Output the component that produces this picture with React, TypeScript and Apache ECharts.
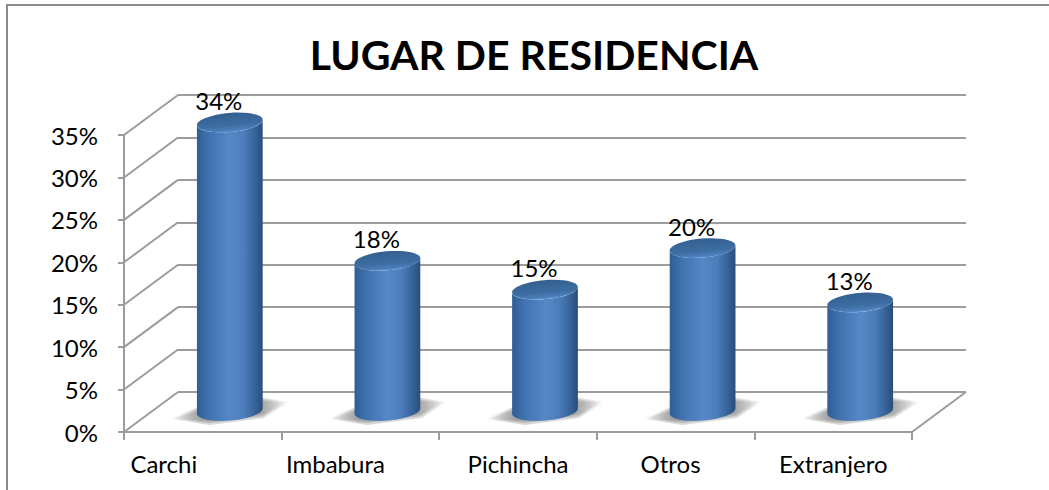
import React, { useEffect, useRef } from "react";
import * as echarts from "echarts";

const categories = ["Carchi", "Imbabura", "Pichincha", "Otros", "Extranjero"];
const values = [34, 17.7, 14.3, 19.2, 12.8];
const dataLabels = ["34%", "18%", "15%", "20%", "13%"];
const yTicks = [0, 5, 10, 15, 20, 25, 30, 35];
const titleText = "LUGAR DE RESIDENCIA";

const FONT = "Lato, 'Open Sans', sans-serif";
const GRID_LEFT = 124, GRID_RIGHT = 912, GRID_TOP = 135, GRID_BOTTOM = 432;
const DX = 54, DY = -40;
const W = 1049, H = 490;
const labelShift = [39, 25, 0, 5, 0];
const LINE = "#9c9c9c";

function renderDepth(params: any, api: any) {
  const v = api.value(0);
  const y = api.coord([0, v])[1];
  const x = params.coordSys.x;
  return {
    type: "line",
    silent: true,
    shape: { x1: x, y1: y, x2: x + DX, y2: y + DY },
    style: { stroke: LINE, lineWidth: 2 },
  };
}

function renderFloorRight(params: any, api: any) {
  const y = api.coord([0, api.value(0)])[1];
  const x = params.coordSys.x + params.coordSys.width;
  return {
    type: "line",
    silent: true,
    shape: { x1: x, y1: y, x2: x + DX, y2: y + DY },
    style: { stroke: LINE, lineWidth: 2 },
  };
}

function shadowLayer(cx: number, byc: number, grow: number, alpha: number) {
  const fill = new echarts.graphic.LinearGradient(0, 0, 1, 0, [
    { offset: 0, color: `rgba(125,125,125,0)` },
    { offset: 0.25, color: `rgba(125,125,125,${alpha})` },
    { offset: 0.75, color: `rgba(125,125,125,${alpha})` },
    { offset: 1, color: `rgba(125,125,125,0)` },
  ]);
  return {
    type: "polygon",
    shape: {
      points: [
        [cx - 58 - grow, byc + 8],
        [cx - 30, byc - 3 - grow],
        [cx + 30, byc - 12 - grow],
        [cx + 58 + grow, byc - 9],
        [cx + 34, byc + 5 + grow],
        [cx - 20, byc + 12 + grow],
      ],
    },
    style: { fill },
  };
}

function renderCyl(params: any, api: any) {
  const idx = api.value(0);
  const val = api.value(1);
  const base = api.coord([idx, 0]);
  const top = api.coord([idx, val]);
  const cx = base[0] + DX / 2;
  const byc = base[1] + DY / 2 - 1;
  const tyc = top[1] + DY / 2 - 1;
  const rx = 33, ry = 9.5, rot = (5 * Math.PI) / 180;
  const ell = (cy: number, t: number) => {
    const ex = rx * Math.cos(t), ey = ry * Math.sin(t);
    return [cx + ex * Math.cos(rot) + ey * Math.sin(rot), cy - ex * Math.sin(rot) + ey * Math.cos(rot)];
  };
  const body: number[][] = [];
  for (let i = 0; i <= 24; i++) body.push(ell(tyc, Math.PI - (i / 24) * Math.PI));
  for (let i = 0; i <= 24; i++) body.push(ell(byc, (i / 24) * Math.PI));
  const bodyFill = new echarts.graphic.LinearGradient(0, 0, 1, 0, [
    { offset: 0, color: "#2f5e96" },
    { offset: 0.18, color: "#3f72ae" },
    { offset: 0.5, color: "#5688c8" },
    { offset: 0.72, color: "#4c7dba" },
    { offset: 0.92, color: "#315d91" },
    { offset: 1, color: "#294d77" },
  ]);
  const topFill = new echarts.graphic.LinearGradient(0, 0, 0, 1, [
    { offset: 0, color: "#34608f" },
    { offset: 0.65, color: "#3d6da3" },
    { offset: 0.88, color: "#4a7db8" },
    { offset: 1, color: "#5a8ecd" },
  ]);
  return {
    type: "group",
    silent: true,
    children: [
      shadowLayer(cx, byc, 2, 0.3),
      shadowLayer(cx, byc, 0, 0.35),
      shadowLayer(cx, byc, -2, 0.4),
      { type: "polygon", shape: { points: body }, style: { fill: bodyFill } },
      {
        type: "ellipse",
        shape: { cx: 0, cy: 0, rx: rx, ry: ry },
        x: cx,
        y: tyc,
        rotation: rot,
        style: { fill: topFill },
      },
    ],
  };
}

export default function App() {
  const ref = useRef<HTMLDivElement>(null);
  useEffect(() => {
    const chart = echarts.init(ref.current!, undefined, { renderer: "svg" });
    const rich: any = {};
    categories.forEach((c, i) => {
      rich["c" + i] = {
        fontFamily: FONT,
        fontSize: 24,
        color: "#000",
        padding: [0, labelShift[i] * 2, 0, 0],
      };
    });
    chart.setOption({
      animation: false,
      backgroundColor: "#fff",
      title: {
        text: titleText,
        left: 529,
        top: 29,
        textAlign: "center",
        textStyle: { fontFamily: FONT, fontWeight: "bold", fontSize: 41, color: "#000" },
      },
      graphic: [
        {
          type: "rect",
          shape: { x: 7, y: 5, width: 1100, height: 600 },
          style: { fill: "none", stroke: "#8c8c8c", lineWidth: 2 },
          silent: true,
        },
      ],
      grid: [
        { left: GRID_LEFT, top: GRID_TOP, width: GRID_RIGHT - GRID_LEFT, height: GRID_BOTTOM - GRID_TOP },
        { left: GRID_LEFT + DX, top: GRID_TOP + DY, width: GRID_RIGHT - GRID_LEFT, height: GRID_BOTTOM - GRID_TOP },
      ],
      xAxis: [
        {
          type: "category",
          gridIndex: 0,
          data: categories,
          boundaryGap: true,
          axisLine: { show: true, lineStyle: { color: LINE, width: 2 } },
          axisTick: { show: true, alignWithLabel: false, interval: 0, length: 8, lineStyle: { color: LINE, width: 2 } },
          axisLabel: {
            margin: 19,
            interval: 0,
            formatter: (v: string) => `{c${categories.indexOf(v)}|${v}}`,
            rich,
          },
        },
        {
          type: "category",
          gridIndex: 1,
          data: categories,
          axisLine: { show: false },
          axisTick: { show: false },
          axisLabel: { show: false },
        },
      ],
      yAxis: [
        {
          type: "value",
          gridIndex: 0,
          min: 0,
          max: 35,
          interval: 5,
          axisLine: { show: true, lineStyle: { color: LINE, width: 2 } },
          axisTick: { show: true, length: 6, lineStyle: { color: LINE, width: 2 } },
          splitLine: { show: false },
          axisLabel: {
            margin: 26,
            formatter: (v: number) => `${v}%`,
            fontFamily: FONT,
            fontSize: 24,
            color: "#000",
            padding: [4, 0, 0, 0],
          },
        },
        {
          type: "value",
          gridIndex: 1,
          min: 0,
          max: 35,
          interval: 5,
          axisLine: { show: false },
          axisTick: { show: false },
          axisLabel: { show: false },
          splitLine: { show: true, lineStyle: { color: LINE, width: 2 } },
        },
      ],
      series: [
        {
          type: "custom",
          xAxisIndex: 0,
          yAxisIndex: 0,
          renderItem: renderDepth,
          data: yTicks.map((t) => [t]),
          encode: { y: 0 },
          z: 1,
          silent: true,
          clip: false,
        },
        {
          type: "custom",
          xAxisIndex: 0,
          yAxisIndex: 0,
          renderItem: renderFloorRight,
          data: [[0]],
          encode: { y: 0 },
          z: 1,
          silent: true,
          clip: false,
        },
        {
          type: "custom",
          name: "Lugar de residencia",
          xAxisIndex: 0,
          yAxisIndex: 0,
          renderItem: renderCyl,
          data: values.map((v, i) => [i, v]),
          encode: { x: 0, y: 1 },
          z: 3,
          silent: true,
          clip: false,
        },
        {
          type: "scatter",
          xAxisIndex: 0,
          yAxisIndex: 0,
          symbolSize: 0,
          itemStyle: { opacity: 1 },
          data: values.map((v, i) => [i, v]),
          z: 4,
          silent: true,
          clip: false,
          label: {
            show: true,
            position: "top",
            distance: 0,
            offset: [16, -31],
            formatter: (p: any) => dataLabels[p.dataIndex],
            fontFamily: FONT,
            fontSize: 24,
            color: "#000",
            opacity: 1,
          },
        },
      ],
    });
    return () => chart.dispose();
  }, []);
  return <div ref={ref} style={{ position: "absolute", left: 0, top: 0, width: W, height: H }} />;
}
